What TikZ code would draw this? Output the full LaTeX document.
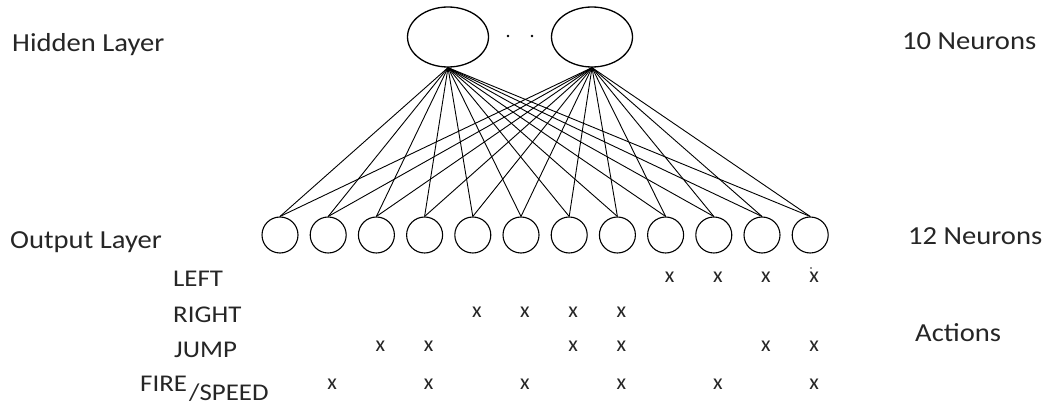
\documentclass[tikz,border=0pt]{standalone}
\usepackage{fontspec}
\setmainfont{Carlito}
\usetikzlibrary{shapes.geometric}
\definecolor{txt}{HTML}{262626}
\tikzset{
  hid/.style={draw, ellipse, line width=1.3pt, minimum width=81pt, minimum height=60pt, inner sep=0pt},
  outn/.style={draw, circle, line width=1.1pt, minimum size=36pt, inner sep=0pt},
  conn/.style={line width=0.9pt},
  bigtxt/.style={anchor=base west, text=txt, inner sep=0pt, font=\fontsize{26}{30}\selectfont},
  acttxt/.style={anchor=base west, text=txt, inner sep=0pt, font=\fontsize{24}{28}\selectfont},
  xmark/.style={anchor=base, text=txt, inner sep=0pt, font=\fontsize{22}{26}\selectfont}
}
\newcommand{\wide}[1]{\scalebox{1.1}[1]{#1}}
\newcommand{\widea}[1]{\scalebox{1.12}[1]{#1}}
\begin{document}
\begin{tikzpicture}[x=1pt, y=-1pt]
\useasboundingbox (0,0) rectangle (1047,406);
\fill[white] (0,0) rectangle (1047,406);
% hidden layer
\node[hid] (h1) at (448,37) {};
\node[hid] (h2) at (592,37) {};
\fill (508,36) circle (1.4pt);
\fill (532,36) circle (1.4pt);
% output layer
\foreach \i in {1,...,12} {
  \node[outn] (o\i) at ({280+48.2*(\i-1)},235) {};
}
\foreach \i in {1,...,12} {
  \draw[conn] (h1.south) -- (o\i.north);
  \draw[conn] (h2.south) -- (o\i.north);
}
% labels
\node[bigtxt] (lh) at (12,52) {\wide{Hidden Layer}};
\node[bigtxt] (lo) at (10,249) {\wide{Output Layer}};
\node[bigtxt] (n10) at (902,50) {\wide{10 Neurons}};
\node[bigtxt] (n12) at (908,244) {\wide{12 Neurons}};
\node[bigtxt] (act) at (915,341) {\wide{Actions}};
% action rows
\node[acttxt] (aleft) at (173,287) {\widea{LEFT}};
\node[acttxt] (aright) at (173,322) {\widea{RIGHT}};
\node[acttxt] (ajump) at (174,357) {\widea{JUMP}};
\node[acttxt] (afire) at (140,391) {\widea{FIRE}};
\node[acttxt] (aspeed) at (189,400) {\widea{/SPEED}};
% marks
\foreach \c in {9,10,11,12} { \node[xmark] at ({284+48.2*(\c-1)},283) {x}; }
\foreach \c in {5,6,7,8} { \node[xmark] at ({284+48.2*(\c-1)},317) {x}; }
\foreach \c in {3,4,7,8,11,12} { \node[xmark] at ({284+48.2*(\c-1)},351) {x}; }
\foreach \c in {2,4,6,8,10,12} { \node[xmark] at ({284+48.2*(\c-1)},389) {x}; }
\fill[txt] (811,268) circle (0.9pt);
\end{tikzpicture}
\end{document}
